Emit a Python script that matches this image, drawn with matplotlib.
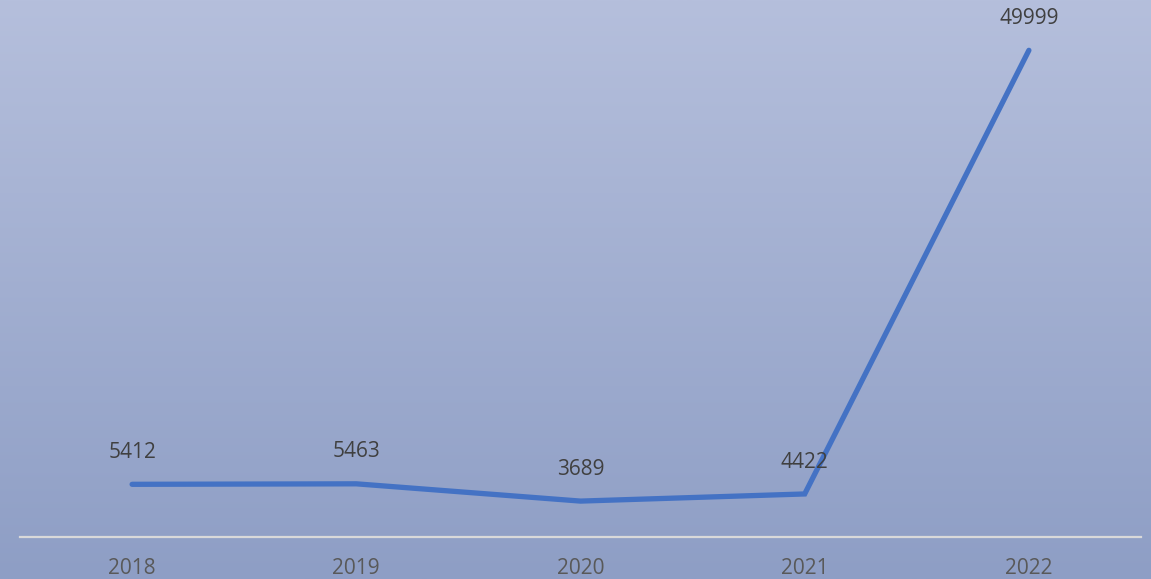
import numpy as np
import matplotlib
matplotlib.use('Agg')
import matplotlib.pyplot as plt
from matplotlib.colors import LinearSegmentedColormap

# Chart data
years = ['2018', '2019', '2020', '2021', '2022']
values = [5412, 5463, 3689, 4422, 49999]

plt.rcParams['font.family'] = ['Open Sans', 'DejaVu Sans']

W, H = 1151, 579
fig = plt.figure(figsize=(W / 100, H / 100), dpi=100)

# Gradient background
bg = fig.add_axes([0, 0, 1, 1], zorder=0)
cmap = LinearSegmentedColormap.from_list('bg', ['#b5bfdc', '#8e9ec5'])
grad = np.linspace(0, 1, 256).reshape(-1, 1)
bg.imshow(grad, aspect='auto', cmap=cmap, extent=[0, 1, 0, 1], origin='upper')
bg.axis('off')

# Plot area
ax = fig.add_axes([20 / W, (H - 537) / H, 1121 / W, 537 / H], zorder=1)
ax.patch.set_alpha(0)
x = np.arange(len(years))
ax.plot(x, values, color='#4472c4', lw=3.8, solid_capstyle='round',
        solid_joinstyle='miter')

for xi, v in zip(x, values):
    ax.annotate(str(v), (xi, v), xytext=(0, 23), textcoords='offset points',
                ha='center', va='center', fontsize=15, color='#404040')

ax.set_xlim(-0.5, len(years) - 0.5)
ax.set_ylim(0, 537 / 0.009734)
ax.set_xticks(x)
ax.set_xticklabels(years, fontsize=15, color='#595959')
ax.tick_params(axis='x', length=0, pad=15)
ax.set_yticks([])
for s in ['top', 'right', 'left']:
    ax.spines[s].set_visible(False)
ax.spines['bottom'].set_color('#d9d9d9')
ax.spines['bottom'].set_linewidth(1.6)

fig.savefig('out.png', dpi=100)
